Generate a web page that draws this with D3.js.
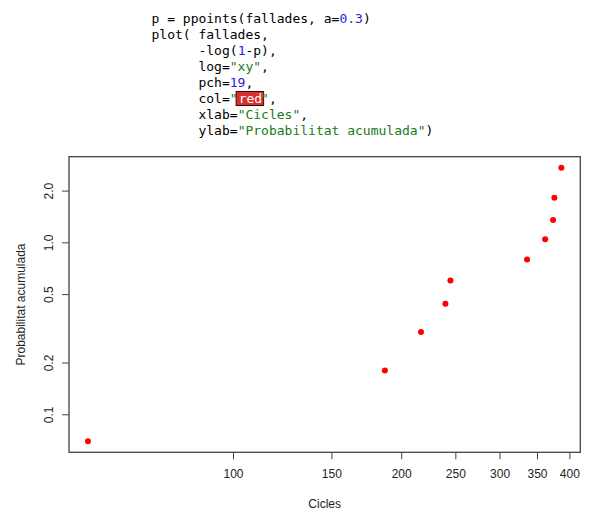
<!DOCTYPE html>
<html>
<head>
<meta charset="utf-8">
<script src="https://cdn.jsdelivr.net/npm/d3@7"></script>
<style>
html,body{margin:0;padding:0;background:#fff;}
svg{display:block;}
</style>
</head>
<body>
<svg id="chart" width="595" height="519"></svg>
<script>
// Data
const cicles = [55, 187, 217, 240, 245, 336, 362, 374, 376, 387];
const probAcumulada = [0.0696, 0.180, 0.301, 0.440, 0.600, 0.796, 1.041, 1.351, 1.816, 2.719];
const xTicks = [100, 150, 200, 250, 300, 350, 400];
const yTicks = [0.1, 0.2, 0.5, 1.0, 2.0];
const yTickLabels = ["0.1", "0.2", "0.5", "1.0", "2.0"];
const xLabel = "Cicles";
const yLabel = "Probabilitat acumulada";

// Code snippet lines: arrays of [text, kind]
const codeLines = [
  [["p = ppoints(fallades, a=", "t"], ["0.3", "n"], [")", "t"]],
  [["plot( fallades,", "t"]],
  [["      -log(", "t"], ["1", "n"], ["-p),", "t"]],
  [["      log=", "t"], ["\"xy\"", "s"], [",", "t"]],
  [["      pch=", "t"], ["19", "n"], [",", "t"]],
  [["      col=", "t"], ["\"", "s"], ["red", "hl"], ["\"", "s"], [",", "t"]],
  [["      xlab=", "t"], ["\"Cicles\"", "s"], [",", "t"]],
  [["      ylab=", "t"], ["\"Probabilitat acumulada\"", "s"], [")", "t"]]
];

const svg = d3.select("#chart");

// ---- code text ----
const codeColors = {t: "#000000", n: "#2B1BE0", s: "#1A7A1A", hl: "#FFFFFF"};
const charW = 7.83, codeX = 151.5, codeY0 = 22.5, codeDy = 16.1;
const codeG = svg.append("g")
  .attr("font-family", "'DejaVu Sans Mono', monospace")
  .attr("font-size", 13);
codeLines.forEach((line, i) => {
  let col = 0;
  const y = codeY0 + i * codeDy;
  line.forEach(([txt, kind]) => {
    const x = codeX + col * charW;
    if (kind === "hl") {
      codeG.append("rect")
        .attr("x", x - 1.5).attr("y", y - 11.5)
        .attr("width", txt.length * charW + 4).attr("height", 14)
        .attr("fill", "#D9302E").attr("stroke", "#3a0a0a").attr("stroke-width", 1);
    }
    codeG.append("text")
      .attr("x", kind === "hl" ? x + 1 : (kind === "s" && line[line.indexOf(line.find(p => p[0] === txt)) - 1] && line[line.indexOf(line.find(p => p[0] === txt)) - 1][1] === "hl" ? x + 2.5 : x))
      .attr("y", y)
      .attr("fill", codeColors[kind])
      .attr("xml:space", "preserve")
      .style("white-space", "pre")
      .text(txt);
    col += txt.length;
  });
});

// ---- plot ----
const box = {left: 69, right: 580.3, top: 156.7, bottom: 452.3};

function padLog(ext) {
  const a = Math.log10(ext[0]), b = Math.log10(ext[1]);
  const d = (b - a) * 0.04;
  return [Math.pow(10, a - d), Math.pow(10, b + d)];
}

const x = d3.scaleLog().domain(padLog(d3.extent(cicles))).range([box.left, box.right]);
const y = d3.scaleLog().domain(padLog(d3.extent(probAcumulada))).range([box.bottom, box.top]);

const axisColor = "#444";
const font = "'Liberation Sans', Arial, sans-serif";

// x axis
const xAxis = d3.axisBottom(x).tickValues(xTicks).tickFormat(d3.format("d")).tickSize(7).tickSizeOuter(0);
const gx = svg.append("g").attr("transform", `translate(0,${box.bottom})`).call(xAxis);
gx.select(".domain").remove();
gx.selectAll(".tick line").attr("stroke", axisColor).attr("stroke-width", 1);
gx.selectAll(".tick text").attr("font-family", font).attr("font-size", 12)
  .attr("fill", "#222").attr("y", 0).attr("dy", null)
  .attr("transform", "translate(0,26)");

// y axis
const yAxis = d3.axisLeft(y).tickValues(yTicks).tickFormat((d, i) => yTickLabels[i]).tickSize(7).tickSizeOuter(0);
const gy = svg.append("g").attr("transform", `translate(${box.left},0)`).call(yAxis);
gy.select(".domain").remove();
gy.selectAll(".tick line").attr("stroke", axisColor).attr("stroke-width", 1);
gy.selectAll(".tick text").attr("font-family", font).attr("font-size", 12)
  .attr("fill", "#222").attr("x", 0).attr("dy", null)
  .attr("text-anchor", "middle")
  .attr("transform", "translate(-16.5,0) rotate(-90)");

// box
svg.append("rect")
  .attr("x", box.left).attr("y", box.top)
  .attr("width", box.right - box.left).attr("height", box.bottom - box.top)
  .attr("fill", "none").attr("stroke", axisColor).attr("stroke-width", 1.3);

// points
svg.append("g").selectAll("circle")
  .data(cicles.map((c, i) => [c, probAcumulada[i]]))
  .join("circle")
  .attr("cx", d => x(d[0]))
  .attr("cy", d => y(d[1]))
  .attr("r", 3)
  .attr("fill", "#FF0000");

// labels
svg.append("text")
  .attr("x", (box.left + box.right) / 2).attr("y", 508)
  .attr("text-anchor", "middle")
  .attr("font-family", font).attr("font-size", 12).attr("fill", "#222")
  .text(xLabel);

svg.append("text")
  .attr("transform", `translate(25,${(box.top + box.bottom) / 2}) rotate(-90)`)
  .attr("text-anchor", "middle")
  .attr("font-family", font).attr("font-size", 12).attr("fill", "#222")
  .text(yLabel);
</script>
</body>
</html>
